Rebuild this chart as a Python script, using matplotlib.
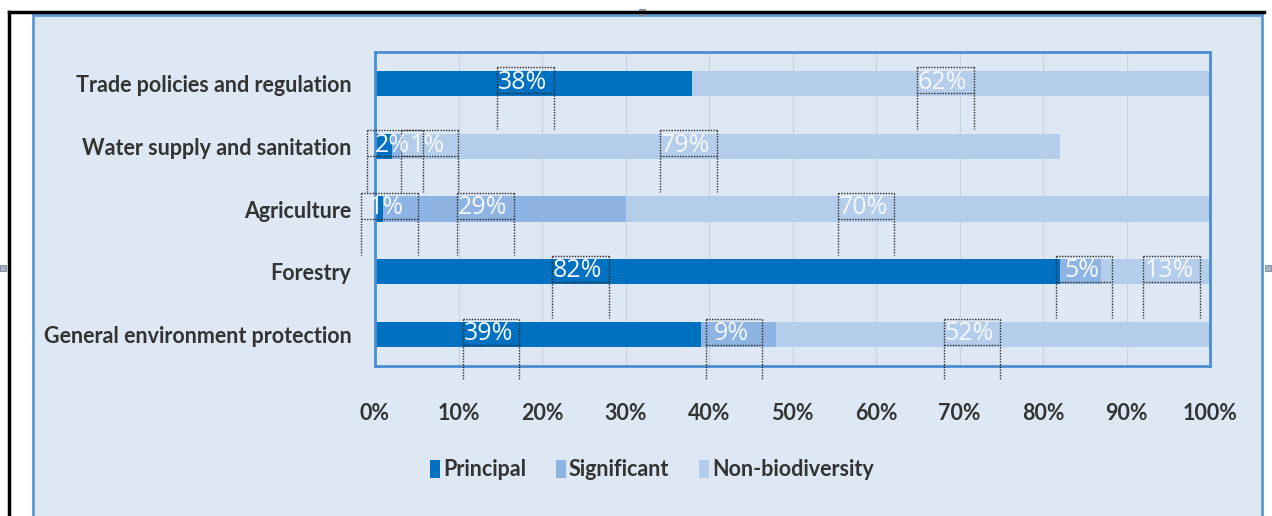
"""Stacked horizontal bar: biodiversity-marked share of aid by sector."""

import matplotlib
matplotlib.use("Agg")
import matplotlib.pyplot as plt
from matplotlib import font_manager
from matplotlib.lines import Line2D
from matplotlib.patches import Patch, Rectangle

sectors = [
    "Trade policies and regulation",
    "Water supply and sanitation",
    "Agriculture",
    "Forestry",
    "General environment protection",
]
principal = [38, 2, 1, 82, 39]
significant = [0, 1, 29, 5, 9]
non_biodiversity = [62, 79, 70, 13, 52]
series_names = ["Principal", "Significant", "Non-biodiversity"]
ticks = list(range(0, 101, 10))
tick_labels = [f"{t}%" for t in ticks]

# hand-placed data labels in the original: shift from segment centre, in % points
label_shift = [
    [-1.0, 0.0, -0.7],
    [1.4, 4.0, -5.0],
    [1.2, -2.3, -6.2],
    [-16.4, 0.4, 1.9],
    [-5.6, -0.5, -2.5],
]

COLORS = ["#0070C0", "#8DB4E2", "#B4CDEA"]
BG = "#DEE8F4"
BORDER = "#5B9BD5"
TEXT = "#333333"

W, H = 1272, 516


def pick_font(*names):
    have = {f.name for f in font_manager.fontManager.ttflist}
    for n in names:
        if n in have:
            return n
    return "DejaVu Sans"


CAT_FONT = pick_font("Liberation Sans Narrow", "Lato", "Open Sans")
NUM_FONT = pick_font("Open Sans", "Lato", "DejaVu Sans")


def fx(x):
    return x / W


def fy(y):
    return 1 - y / H


fig = plt.figure(figsize=(W / 100, H / 100), dpi=100)
fig.patch.set_facecolor("white")

# chart area behind the plot, plus the screenshot frame and selection handles
fig.add_artist(Rectangle((fx(33), fy(530)), fx(1262) - fx(33), fy(15) - fy(530),
                         transform=fig.transFigure, facecolor=BG, edgecolor=BORDER,
                         linewidth=2, zorder=0))
fig.add_artist(Line2D([fx(9), fx(1264)], [fy(12), fy(12)], transform=fig.transFigure,
                      color="black", linewidth=2.5))
fig.add_artist(Line2D([fx(9), fx(9)], [fy(12), fy(520)], transform=fig.transFigure,
                      color="black", linewidth=2.5))
for hx, hy in [(3, 268), (1268, 268), (642, 12)]:
    fig.add_artist(Rectangle((fx(hx - 3), fy(hy + 3)), 6 / W, 6 / H,
                             transform=fig.transFigure, facecolor="#A9B3C4",
                             edgecolor="#7A8494", linewidth=0.6))

ax = fig.add_axes([fx(375), fy(366), fx(1210) - fx(375), fy(52) - fy(366)])
ax.set_facecolor(BG)

ypos = list(range(len(sectors)))
lefts = [0] * len(sectors)
all_series = [principal, significant, non_biodiversity]
for vals, color, name in zip(all_series, COLORS, series_names):
    ax.barh(ypos, vals, left=lefts, height=0.4, color=color, label=name, zorder=2)
    lefts = [l + v for l, v in zip(lefts, vals)]

ax.set_xlim(0, 100)
ax.set_ylim(-0.5, len(sectors) - 0.5)
ax.invert_yaxis()
ax.set_xticks(ticks)
ax.set_xticklabels(tick_labels)
ax.set_yticks(ypos)
ax.set_yticklabels(sectors)
ax.grid(axis="x", color="#CBD4DE", linewidth=1, zorder=1)
ax.set_axisbelow(True)
ax.tick_params(length=0)
ax.tick_params(axis="x", pad=27)
ax.tick_params(axis="y", pad=17)
for lab in ax.get_xticklabels() + ax.get_yticklabels():
    lab.set_fontfamily(CAT_FONT)
    lab.set_fontsize(15.5)
    lab.set_fontweight("bold")
    lab.set_color(TEXT)
for sp in ax.spines.values():
    sp.set_color("#4A8ED0")
    sp.set_linewidth(2)

# data labels inside dotted selection boxes
box_w = 6.8
dot = dict(color="#2A2A2A", linewidth=1, linestyle=(0, (1, 1)), clip_on=False, zorder=4)
for i in ypos:
    start = 0
    for j, vals in enumerate(all_series):
        v = vals[i]
        if v > 0:
            cx = start + v / 2 + label_shift[i][j]
            x0, x1 = cx - box_w / 2, cx + box_w / 2
            top, bot, ext = i - 0.255, i + 0.16, i + 0.73
            ax.plot([x0, x1], [top, top], **dot)
            ax.plot([x0, x1], [bot, bot], **dot)
            ax.plot([x0, x0], [top, ext], **dot)
            ax.plot([x1, x1], [top, ext], **dot)
            ax.text(cx - 0.3, (top + bot) / 2 + 0.03, f"{v}%", ha="center", va="center",
                    color="#F4F8FD", fontsize=18, fontfamily=NUM_FONT, zorder=5)
        start += v

handles = [Patch(facecolor=c, edgecolor="none") for c in COLORS]
fig.legend(handles, series_names, loc="center", bbox_to_anchor=(fx(652), fy(470)),
           ncol=3, frameon=False, handlelength=0.45, handleheight=0.9,
           handletextpad=0.15, columnspacing=1.4,
           prop=dict(family=CAT_FONT, size=15.5, weight="bold"), labelcolor=TEXT)

fig.savefig("out.png", dpi=100, facecolor="white")
